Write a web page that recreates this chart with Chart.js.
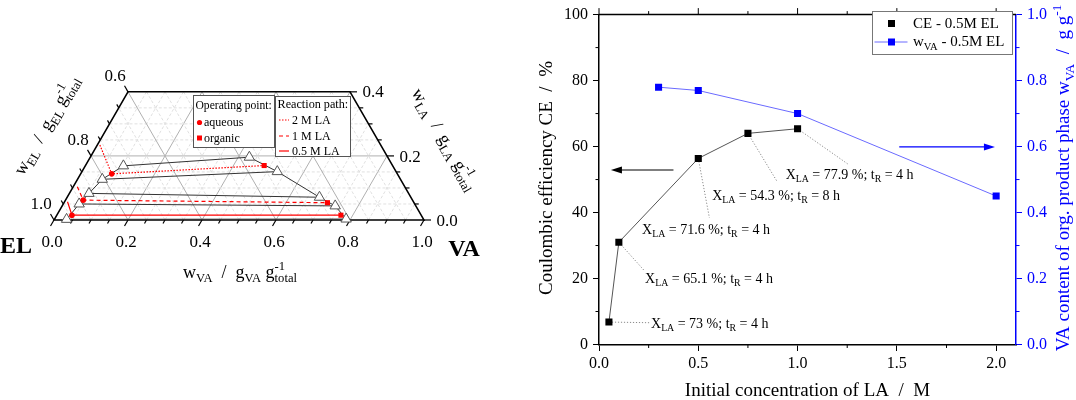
<!DOCTYPE html>
<html>
<head>
<meta charset="utf-8">
<title>Ternary diagram and coulombic efficiency</title>
<script src="https://cdn.jsdelivr.net/npm/chart.js@4.4.1/dist/chart.umd.min.js"></script>
<style>
  html, body { margin: 0; padding: 0; background: #fff; }
  #wrap { position: relative; width: 1076px; height: 400px; overflow: hidden; }
  #tern { position: absolute; left: 0; top: 0; }
  #ce { position: absolute; left: 500px; top: 0; }
</style>
</head>
<body>
<div id="wrap">
  <canvas id="tern" width="500" height="400"></canvas>
  <canvas id="ce" width="576" height="400"></canvas>
</div>
<script>
// ---------- ternary diagram data (mass fractions, EL = 1 - VA - LA) ----------
// binodal points, left branch (aqueous) and right branch (organic); tie lines join them pairwise
const tieLeftVA  = [0.103, 0.067, 0.053, 0.043, 0.033];
const tieLeftLA  = [0.169, 0.127, 0.083, 0.050, 0.002];
const tieRightVA = [0.430, 0.528, 0.682, 0.738, 0.788];
const tieRightLA = [0.196, 0.151, 0.071, 0.044, 0.003];

// reaction paths: start on EL-LA edge -> aqueous point -> organic point
const pathNames   = ['2 M LA', '1 M LA', '0.5 M LA'];
const pathStartVA = [0.007, 0.011, 0.008];
const pathStartLA = [0.234, 0.104, 0.057];
const aqueousVA   = [0.084, 0.048, 0.041];
const aqueousLA   = [0.144, 0.062, 0.015];
const organicVA   = [0.483, 0.712, 0.768];
const organicLA   = [0.170, 0.054, 0.015];

const ternTicks = [0.0, 0.2, 0.4, 0.6, 0.8, 1.0];   // w_VA
const laTicks   = [0.0, 0.2, 0.4];                  // w_LA
const elTicks   = [1.0, 0.8, 0.6];                  // w_EL

// ---------- coulombic efficiency data ----------
const ceConc       = [0.05, 0.1, 0.5, 0.75, 1.0];
const ceValue      = [6.8, 31.0, 56.4, 64.0, 65.4];
const laConversion = [73, 65.1, 71.6, 54.3, 77.9];
const reactionTime = [4, 4, 4, 8, 4];
const wvaConc      = [0.3, 0.5, 1.0, 2.0];
const wvaValue     = [0.78, 0.77, 0.70, 0.45];

const concTicks = [0.0, 0.5, 1.0, 1.5, 2.0];
const ceTicks   = [0, 20, 40, 60, 80, 100];
const wvaTicks  = [0.0, 0.2, 0.4, 0.6, 0.8, 1.0];

// where the conversion notes sit (data units of x / left y)
const noteAt  = [[0.262, 6.5], [0.232, 20.1], [0.217, 35.0], [0.57, 45.2], [0.94, 51.7]];
const noteEnd = [[0.257, 6.6], [0.231, 22.2], [0.556, 38.4], [0.898, 49.3], [1.258, 54.5]];

const SERIF = '"Liberation Serif", "Times New Roman", serif';
const S3 = Math.sqrt(3) / 2;
const laMax = 0.4;
const BLUE = '#0000ff';

// rich text: parts are {t} normal, {sub}, {sup} or {sub, sup} stacked. y = middle of capitals
function richText(ctx, parts, x, y, o) {
  const size = o.size, small = size * 0.7;
  const big = (o.bold ? 'bold ' : '') + size + 'px ' + SERIF;
  const sm = small + 'px ' + SERIF;
  const widths = parts.map(p => {
    if (p.t !== undefined) { ctx.font = big; return ctx.measureText(p.t).width; }
    ctx.font = sm;
    return Math.max(p.sub ? ctx.measureText(p.sub).width : 0, p.sup ? ctx.measureText(p.sup).width : 0);
  });
  const total = widths.reduce((s, w) => s + w, 0);
  ctx.save();
  ctx.translate(x, y);
  if (o.rotate) ctx.rotate(o.rotate);
  ctx.fillStyle = o.color || '#000';
  ctx.textBaseline = 'alphabetic';
  ctx.textAlign = 'left';
  let cx = o.align === 'center' ? -total / 2 : (o.align === 'right' ? -total : 0);
  const base = size * 0.33;
  parts.forEach((p, i) => {
    if (p.t !== undefined) {
      ctx.font = big;
      ctx.fillText(p.t, cx, base);
    } else {
      ctx.font = sm;
      if (p.sub) ctx.fillText(p.sub, cx, base + size * 0.24);
      if (p.sup) ctx.fillText(p.sup, cx, base - size * 0.45);
    }
    cx += widths[i];
  });
  ctx.restore();
}

function line(ctx, a, b) {
  ctx.beginPath();
  ctx.moveTo(a[0], a[1]);
  ctx.lineTo(b[0], b[1]);
  ctx.stroke();
}

// ternary (VA, LA) -> cartesian
const tern = (va, la) => ({ x: va + la / 2, y: la * S3 });

function ternPixel(chart) {
  const sx = chart.scales.x, sy = chart.scales.y;
  return (va, la) => [sx.getPixelForValue(va + la / 2), sy.getPixelForValue(la * S3)];
}

const ternPlugin = {
  id: 'ternFrame',
  beforeDatasetsDraw(chart) {
    const ctx = chart.ctx, P = ternPixel(chart);
    ctx.save();
    ctx.lineWidth = 1;
    for (let k = 1; k < 20; k++) {
      const v = k * 0.05;
      const major = k % 4 === 0;
      ctx.strokeStyle = major ? '#b0b0b0' : '#e0e0e0';
      ctx.setLineDash(major ? [] : [3, 2]);
      line(ctx, P(v, 0), P(v, Math.min(laMax, 1 - v)));      // const VA
      const cm = Math.min(laMax, v);
      line(ctx, P(v, 0), P(v - cm, cm));                       // const EL
      if (v < laMax - 1e-9) line(ctx, P(0, v), P(1 - v, v));   // const LA
    }
    ctx.setLineDash([]);
    ctx.strokeStyle = '#000';
    ctx.lineWidth = 1.5;
    ctx.beginPath();
    [P(0, 0), P(1, 0), P(1 - laMax, laMax), P(0, laMax)].forEach((p, i) => i ? ctx.lineTo(p[0], p[1]) : ctx.moveTo(p[0], p[1]));
    ctx.closePath();
    ctx.stroke();
    // ticks
    ctx.lineWidth = 1.2;
    for (let k = 0; k <= 20; k++) {
      const a = k * 0.05, len = k % 4 === 0 ? 7 : 4;
      const p = P(a, 0);
      line(ctx, p, [p[0] - 0.5 * len, p[1] + S3 * len]);
    }
    for (let k = 0; k <= 8; k++) {
      const c = k * 0.05, len = k % 4 === 0 ? 7 : 4;
      const p = P(0, c);
      line(ctx, p, [p[0] - 0.5 * len, p[1] - S3 * len]);
      const q = P(1 - c, c);
      line(ctx, q, [q[0] + len, q[1]]);
    }
    ctx.restore();
  },
  afterDatasetsDraw(chart) {
    const ctx = chart.ctx, P = ternPixel(chart);
    ternTicks.forEach(a => {
      const p = P(a, 0);
      richText(ctx, [{ t: a.toFixed(1) }], p[0] - 2, p[1] + 21, { size: 17, align: 'center' });
    });
    elTicks.forEach(e => {
      const p = P(0, 1 - e);
      richText(ctx, [{ t: e.toFixed(1) }], p[0] - 13, p[1] - 16.5, { size: 17, align: 'center' });
    });
    laTicks.forEach(c => {
      const p = P(1 - c, c);
      richText(ctx, [{ t: c.toFixed(1) }], p[0] + 23, p[1], { size: 17, align: 'center' });
    });
    richText(ctx, [{ t: 'EL' }], 16, 245, { size: 24, bold: true, align: 'center' });
    richText(ctx, [{ t: 'VA' }], 464, 248, { size: 24, bold: true, align: 'center' });
    richText(ctx, [{ t: 'w' }, { sub: 'VA' }, { t: '  /  g' }, { sub: 'VA' }, { t: ' g' }, { sub: 'total', sup: '-1' }],
      240, 272, { size: 18, align: 'center' });
    richText(ctx, [{ t: 'w' }, { sub: 'EL' }, { t: '  /  g' }, { sub: 'EL' }, { t: ' g' }, { sub: 'total', sup: '-1' }],
      46, 125, { size: 18, align: 'center', rotate: -Math.PI / 3 });
    richText(ctx, [{ t: 'w' }, { sub: 'LA' }, { t: '  /  g' }, { sub: 'LA' }, { t: ' g' }, { sub: 'total', sup: '-1' }],
      445, 139, { size: 18, align: 'center', rotate: Math.PI / 3 });

    // legends: operating point and reaction path
    ctx.save();
    ctx.fillStyle = '#fff';
    ctx.strokeStyle = '#555';
    ctx.lineWidth = 1;
    ctx.fillRect(193.5, 95.5, 81, 52);
    ctx.strokeRect(193.5, 95.5, 81, 52);
    ctx.fillRect(275.5, 96.5, 75, 60);
    ctx.strokeRect(275.5, 96.5, 75, 60);
    ctx.fillStyle = 'red';
    ctx.beginPath();
    ctx.arc(199.5, 122.5, 2.6, 0, Math.PI * 2);
    ctx.fill();
    ctx.fillRect(197, 135.5, 5, 5);
    ctx.strokeStyle = 'red';
    ctx.lineWidth = 1.2;
    const dashes = [[1.5, 1.5], [4, 3], []];
    [120, 136, 151].forEach((yy, i) => {
      ctx.setLineDash(dashes[i]);
      line(ctx, [279, yy], [289, yy]);
    });
    ctx.restore();
    richText(ctx, [{ t: 'Operating point:' }], 195.5, 105.5, { size: 11.6 });
    richText(ctx, [{ t: 'aqueous' }], 204, 122, { size: 12 });
    richText(ctx, [{ t: 'organic' }], 204, 138, { size: 12 });
    richText(ctx, [{ t: 'Reaction path:' }], 277.5, 104, { size: 12.2 });
    pathNames.forEach((n, i) => richText(ctx, [{ t: n }], 292, [120, 136, 151][i], { size: 12 }));
  }
};

const ternDatasets = [];
const pathDash = [[1.5, 1.5], [4, 3], []];
pathNames.forEach((name, i) => {
  ternDatasets.push({
    label: name,
    data: [tern(pathStartVA[i], pathStartLA[i]), tern(aqueousVA[i], aqueousLA[i]), tern(organicVA[i], organicLA[i])],
    showLine: true,
    borderColor: 'red',
    borderWidth: 1.2,
    borderDash: pathDash[i],
    pointStyle: ['circle', 'circle', 'rect'],
    pointRadius: [0, 2.8, 3.6],
    pointBackgroundColor: 'red',
    pointBorderColor: 'red',
    pointBorderWidth: 0,
    clip: false
  });
});
ternDatasets.push({
  label: 'binodal aqueous',
  data: tieLeftVA.map((v, i) => tern(v, tieLeftLA[i])),
  showLine: true, borderColor: '#333', borderWidth: 1,
  pointStyle: 'triangle', pointRadius: 6,
  pointBackgroundColor: '#fff', pointBorderColor: '#555', pointBorderWidth: 1, clip: false
});
ternDatasets.push({
  label: 'binodal organic',
  data: tieRightVA.map((v, i) => tern(v, tieRightLA[i])),
  showLine: true, borderColor: '#333', borderWidth: 1,
  pointStyle: 'triangle', pointRadius: 6,
  pointBackgroundColor: '#fff', pointBorderColor: '#555', pointBorderWidth: 1, clip: false
});
tieLeftVA.forEach((v, i) => {
  ternDatasets.push({
    label: 'tie line ' + (i + 1),
    data: [tern(v, tieLeftLA[i]), tern(tieRightVA[i], tieRightLA[i])],
    showLine: true, borderColor: '#333', borderWidth: 1, pointRadius: 0, clip: false
  });
});

new Chart(document.getElementById('tern'), {
  type: 'scatter',
  data: { datasets: ternDatasets },
  options: {
    responsive: false,
    animation: false,
    events: [],
    layout: { padding: { left: 54, right: 76, top: 220 - 370 * laMax * S3, bottom: 180 } },
    scales: {
      x: { type: 'linear', min: 0, max: 1, display: false },
      y: { type: 'linear', min: 0, max: laMax * S3, display: false }
    },
    plugins: { legend: { display: false }, tooltip: { enabled: false } }
  },
  plugins: [ternPlugin]
});

// ---------- coulombic efficiency chart ----------
function arrow(ctx, x0, x1, y, color) {
  const dir = Math.sign(x1 - x0);
  ctx.save();
  ctx.strokeStyle = color;
  ctx.fillStyle = color;
  ctx.lineWidth = 1.2;
  line(ctx, [x0, y], [x1 - dir * 8, y]);
  ctx.beginPath();
  ctx.moveTo(x1, y);
  ctx.lineTo(x1 - dir * 11, y - 3.5);
  ctx.lineTo(x1 - dir * 11, y + 3.5);
  ctx.closePath();
  ctx.fill();
  ctx.restore();
}

const cePlugin = {
  id: 'ceExtras',
  beforeDatasetsDraw(chart) {
    const ctx = chart.ctx, sx = chart.scales.x, sy = chart.scales.y;
    ctx.save();
    ctx.strokeStyle = '#8a8a8a';
    ctx.lineWidth = 1;
    ctx.setLineDash([1.2, 1.8]);
    ceConc.forEach((c, i) => {
      line(ctx, [sx.getPixelForValue(c), sy.getPixelForValue(ceValue[i])],
        [sx.getPixelForValue(noteEnd[i][0]), sy.getPixelForValue(noteEnd[i][1])]);
    });
    ctx.restore();
  },
  afterDatasetsDraw(chart) {
    const ctx = chart.ctx, a = chart.chartArea;
    const sx = chart.scales.x, sy = chart.scales.y, sy1 = chart.scales.y1;
    ctx.save();
    // top frame and its ticks
    ctx.strokeStyle = '#000';
    ctx.lineWidth = 1.5;
    line(ctx, [a.left, a.top], [a.right, a.top]);
    ctx.lineWidth = 1;
    for (let k = 0; k <= 8; k++) {
      const v = k * 0.25, px = sx.getPixelForValue(v), len = k % 2 === 0 ? 6.5 : 3.5;
      line(ctx, [px, a.top], [px, a.top - len]);
      if (k % 2) line(ctx, [px, a.bottom], [px, a.bottom + len]);
    }
    for (let v = 10; v < 100; v += 20) {
      const py = sy.getPixelForValue(v);
      line(ctx, [a.left, py], [a.left - 3.5, py]);
    }
    ctx.strokeStyle = BLUE;
    for (let k = 1; k < 10; k += 2) {
      const py = sy1.getPixelForValue(k / 10);
      line(ctx, [a.right, py], [a.right + 3.5, py]);
    }
    ctx.restore();

    // conversion notes
    ceConc.forEach((c, i) => {
      richText(ctx, [{ t: 'X' }, { sub: 'LA' }, { t: ' = ' + laConversion[i] + ' %; t' }, { sub: 'R' }, { t: ' = ' + reactionTime[i] + ' h' }],
        sx.getPixelForValue(noteAt[i][0]), sy.getPixelForValue(noteAt[i][1]), { size: 14 });
    });

    arrow(ctx, sx.getPixelForValue(0.375), sx.getPixelForValue(0.06), sy.getPixelForValue(52.9), '#000');
    arrow(ctx, sx.getPixelForValue(1.512), sx.getPixelForValue(1.994), sy1.getPixelForValue(0.599), BLUE);

    // legend
    ctx.save();
    ctx.fillStyle = '#fff';
    ctx.strokeStyle = '#777';
    ctx.lineWidth = 1;
    ctx.fillRect(372.5, 11.5, 140, 43);
    ctx.strokeRect(372.5, 11.5, 140, 43);
    ctx.fillStyle = '#000';
    ctx.fillRect(388, 20, 7, 7);
    ctx.strokeStyle = '#6a6aff';
    line(ctx, [374.5, 42], [407.5, 42]);
    ctx.fillStyle = BLUE;
    ctx.fillRect(388, 38.5, 7, 7);
    ctx.restore();
    richText(ctx, [{ t: 'CE - 0.5M EL' }], 413, 23.5, { size: 15 });
    richText(ctx, [{ t: 'w' }, { sub: 'VA' }, { t: ' - 0.5M EL' }], 413, 41, { size: 15 });

    // axis titles
    richText(ctx, [{ t: 'Initial concentration of LA  /  M' }], 307.5, 390, { size: 19, align: 'center' });
    richText(ctx, [{ t: 'Coulombic efficiency CE  /  %' }], 45.5, 178, { size: 19, align: 'center', rotate: -Math.PI / 2 });
    richText(ctx, [{ t: 'VA content of org. product phase w' }, { sub: 'VA' }, { t: '  /  g g' }, { sup: '-1' }],
      563, 178, { size: 19, align: 'center', rotate: -Math.PI / 2, color: BLUE });
  }
};

const tickFont = { family: SERIF, size: 16 };

new Chart(document.getElementById('ce'), {
  type: 'scatter',
  data: {
    datasets: [
      {
        label: 'CE - 0.5M EL',
        data: ceConc.map((c, i) => ({ x: c, y: ceValue[i] })),
        yAxisID: 'y',
        showLine: true,
        borderColor: '#555',
        borderWidth: 1,
        pointStyle: 'rect',
        pointRadius: 5,
        pointBackgroundColor: '#000',
        pointBorderColor: '#000',
        pointBorderWidth: 0
      },
      {
        label: 'wVA - 0.5M EL',
        data: wvaConc.map((c, i) => ({ x: c, y: wvaValue[i] })),
        yAxisID: 'y1',
        showLine: true,
        borderColor: '#6a6aff',
        borderWidth: 1,
        pointStyle: 'rect',
        pointRadius: 5,
        pointBackgroundColor: BLUE,
        pointBorderColor: BLUE,
        pointBorderWidth: 0
      }
    ]
  },
  options: {
    responsive: false,
    animation: false,
    events: [],
    layout: { padding: { top: 11, left: 0, right: 0, bottom: 0 } },
    scales: {
      x: {
        type: 'linear', position: 'bottom', min: 0, max: 2.1,
        afterBuildTicks: s => { s.ticks = concTicks.map(v => ({ value: v })); },
        afterFit: s => { s.height = 55.5; },
        ticks: { callback: v => v.toFixed(1), font: tickFont, color: '#000', padding: 3, maxRotation: 0 },
        grid: { drawOnChartArea: false, tickLength: 6.5, color: '#000' },
        border: { color: '#000', width: 1.5 }
      },
      y: {
        type: 'linear', position: 'left', min: 0, max: 100,
        afterBuildTicks: s => { s.ticks = ceTicks.map(v => ({ value: v })); },
        afterFit: s => { s.width = 99; },
        ticks: { font: tickFont, color: '#000', padding: 5 },
        grid: { drawOnChartArea: false, tickLength: 6, color: '#000' },
        border: { color: '#000', width: 1.5 }
      },
      y1: {
        type: 'linear', position: 'right', min: 0, max: 1,
        afterBuildTicks: s => { s.ticks = wvaTicks.map(v => ({ value: v })); },
        afterFit: s => { s.width = 60; },
        ticks: { callback: v => v.toFixed(1), font: tickFont, color: BLUE, padding: 5 },
        grid: { drawOnChartArea: false, tickLength: 6, color: BLUE },
        border: { color: BLUE, width: 1.5 }
      }
    },
    plugins: { legend: { display: false }, tooltip: { enabled: false } }
  },
  plugins: [cePlugin]
});
</script>
</body>
</html>
